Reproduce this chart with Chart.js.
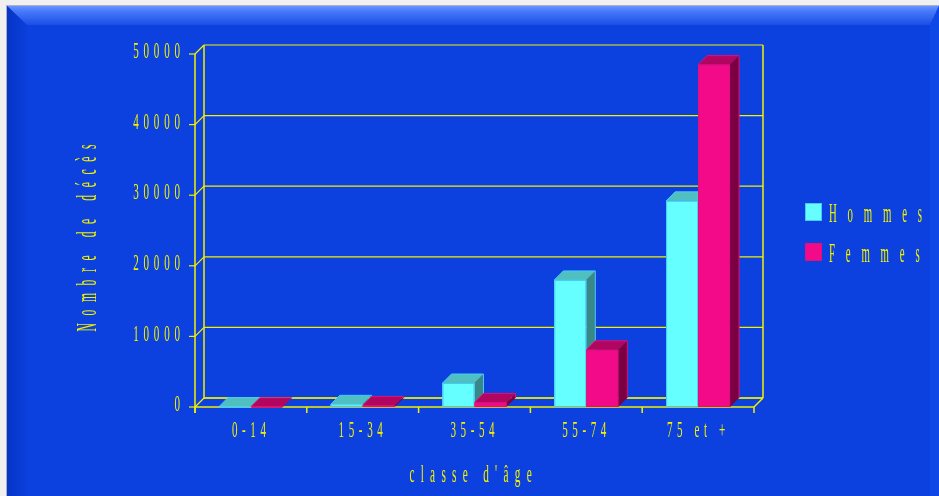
<!DOCTYPE html>
<html>
<head>
<meta charset="utf-8">
<style>
  html, body { margin: 0; padding: 0; background: #f0f0f0; }
  canvas { display: block; }
</style>
<script src="https://cdn.jsdelivr.net/npm/chart.js@4.4.1/dist/chart.umd.min.js"></script>
</head>
<body>
<canvas id="chart" width="939" height="496"></canvas>
<script>
const categories = ['0-14', '15-34', '35-54', '55-74', '75 et +'];
const seriesNames = ['Hommes', 'Femmes'];
const hommes = [50, 380, 3400, 18000, 29200];
const femmes = [30, 220, 650, 8100, 48500];
const yTicks = [0, 10000, 20000, 30000, 40000, 50000];
const yTickLabels = ['0', '10000', '20000', '30000', '40000', '50000'];

const DX = 9, DY = 9;
const YELLOW = '#f2f200';
const FONT = '"Liberation Serif", "DejaVu Serif", serif';

// condensed, letter-spaced text like the original
function spaced(ctx, str, x, y, size, sx, gap, align, rot) {
	ctx.save();
	ctx.font = size + 'px ' + FONT;
	ctx.fillStyle = YELLOW;
	ctx.textBaseline = 'alphabetic';
	ctx.textAlign = 'left';
	const chars = Array.from(str);
	const widths = chars.map(c => ctx.measureText(c).width * sx);
	const total = widths.reduce((a, b) => a + b, 0) + gap * (chars.length - 1);
	let start = 0;
	if (align === 'center') start = -total / 2;
	if (align === 'right') start = -total;
	ctx.translate(x, y);
	if (rot) ctx.rotate(rot);
	let cx = start;
	chars.forEach((c, i) => {
		ctx.save();
		ctx.translate(cx, 0);
		ctx.scale(sx, 1);
		ctx.fillText(c, 0, 0);
		ctx.restore();
		cx += widths[i] + gap;
	});
	ctx.restore();
}

function line(ctx, x1, y1, x2, y2) {
	ctx.beginPath();
	ctx.moveTo(x1, y1);
	ctx.lineTo(x2, y2);
	ctx.stroke();
}

function poly(ctx, pts, fill) {
	ctx.beginPath();
	ctx.moveTo(pts[0][0], pts[0][1]);
	for (let i = 1; i < pts.length; i++) ctx.lineTo(pts[i][0], pts[i][1]);
	ctx.closePath();
	ctx.fillStyle = fill;
	ctx.fill();
}

const backdrop = {
	id: 'backdrop',
	beforeDraw(chart) {
		const ctx = chart.ctx;
		const W = chart.width, H = chart.height;
		ctx.save();
		ctx.fillStyle = '#f0f0f0';
		ctx.fillRect(0, 0, W, H);
		ctx.fillStyle = '#a9b0c8';
		ctx.fillRect(6, 5, W - 6, H - 5);
		ctx.fillStyle = '#0c41e0';
		ctx.fillRect(7, 6, W - 7, H - 6);

		let g = ctx.createLinearGradient(0, 6, 0, 25);
		g.addColorStop(0, '#6795ff');
		g.addColorStop(0.25, '#4a7bfa');
		g.addColorStop(1, '#1a4ee6');
		poly(ctx, [[7, 6], [W, 6], [W - 9, 25], [27, 25]], g);

		g = ctx.createLinearGradient(7, 0, 27, 0);
		g.addColorStop(0, '#0634c6');
		g.addColorStop(1, '#0b3fdc');
		poly(ctx, [[7, 6], [27, 25], [27, H], [7, H]], g);

		poly(ctx, [[W, 6], [W - 9, 25], [W - 9, H], [W, H]], '#0f47e6');
		ctx.restore();
	},
	beforeDatasetsDraw(chart) {
		const ctx = chart.ctx;
		const a = chart.chartArea;
		const ys = chart.scales.y, xs = chart.scales.x;
		ctx.save();
		ctx.strokeStyle = YELLOW;
		ctx.lineWidth = 1.2;
		yTicks.forEach(v => {
			const fy = ys.getPixelForValue(v);
			line(ctx, a.left + DX, fy - DY, a.right + DX, fy - DY);
			line(ctx, a.left, fy, a.left + DX, fy - DY);
			line(ctx, a.left - 6, fy, a.left, fy);
		});
		ctx.lineWidth = 1.5;
		line(ctx, a.left + DX, a.top - DY, a.left + DX, a.bottom - DY);
		line(ctx, a.right + DX, a.top - DY, a.right + DX, a.bottom - DY);
		line(ctx, a.left, a.top, a.left, a.bottom + 6);
		line(ctx, a.left, a.bottom, a.right, a.bottom);
		line(ctx, a.left + DX, a.bottom - DY, a.right + DX, a.bottom - DY);
		line(ctx, a.right, a.bottom, a.right + DX, a.bottom - DY);
		for (let i = 0; i <= categories.length; i++) {
			const x = xs.getPixelForValue(i - 0.5);
			line(ctx, x, a.bottom, x, a.bottom + 6);
		}
		ctx.restore();
	},
	afterDatasetsDraw(chart) {
		const ctx = chart.ctx;
		ctx.save();
		chart.data.datasets.forEach((ds, d) => {
			chart.getDatasetMeta(d).data.forEach(bar => {
				const p = bar.getProps(['x', 'y', 'base', 'width'], true);
				const l = p.x - p.width / 2, r = p.x + p.width / 2;
				poly(ctx, [[r, p.y], [r + DX, p.y - DY], [r + DX, p.base - DY], [r, p.base]], ds.sideColor);
				poly(ctx, [[l, p.y], [r, p.y], [r + DX, p.y - DY], [l + DX, p.y - DY]], ds.topColor);
				ctx.strokeStyle = ds.borderColor;
				ctx.lineWidth = 1;
				ctx.beginPath();
				ctx.moveTo(l, p.y); ctx.lineTo(l + DX, p.y - DY); ctx.lineTo(r + DX, p.y - DY);
				ctx.lineTo(r + DX, p.base - DY);
				ctx.stroke();
				ctx.fillStyle = ds.backgroundColor;
				ctx.fillRect(l, p.y, p.width, p.base - p.y);
				ctx.strokeRect(l + 0.5, p.y + 0.5, p.width - 1, Math.max(0, p.base - p.y - 1));
			});
		});
		ctx.restore();
	},
	afterDraw(chart) {
		const ctx = chart.ctx;
		const a = chart.chartArea;
		const ys = chart.scales.y, xs = chart.scales.x;
		yTicks.forEach((v, i) => {
			spaced(ctx, yTickLabels[i], a.left - 15, ys.getPixelForValue(v) + 4.2, 23, 0.48, 4.8, 'right');
		});
		categories.forEach((c, i) => {
			spaced(ctx, c, xs.getPixelForValue(i) - 2, a.bottom + 30, 23, 0.48, 4.6, 'center');
		});
		spaced(ctx, 'classe d\'âge', (a.left + a.right) / 2 - 4, a.bottom + 75, 25, 0.45, 6.3, 'center');
		spaced(ctx, 'Nombre de décès', 96, 238, 29, 0.4, 7.6, 'center', -Math.PI / 2);

		// legend
		chart.data.datasets.forEach((ds, d) => {
			const top = 203 + d * 40;
			ctx.fillStyle = ds.backgroundColor;
			ctx.fillRect(805, top, 17, 18);
			ctx.strokeStyle = ds.borderColor;
			ctx.lineWidth = 1;
			ctx.strokeRect(805.5, top + 0.5, 16, 17);
			spaced(ctx, ds.label, 829, top + 18.5, 27, 0.4, 10.8, 'left');
		});
	}
};

new Chart(document.getElementById('chart'), {
	type: 'bar',
	data: {
		labels: categories,
		datasets: [
			{
				label: seriesNames[0],
				data: hommes,
				backgroundColor: '#66ffff',
				topColor: '#50bfbf',
				sideColor: '#3a8787',
				borderColor: '#45c8ff',
				borderWidth: 0
			},
			{
				label: seriesNames[1],
				data: femmes,
				backgroundColor: '#f20a88',
				topColor: '#b1065f',
				sideColor: '#7a0042',
				borderColor: '#e0107a',
				borderWidth: 0
			}
		]
	},
	options: {
		responsive: false,
		devicePixelRatio: 1,
		animation: false,
		layout: { padding: { left: 195, right: 185, top: 54, bottom: 89 } },
		categoryPercentage: 0.572,
		barPercentage: 1.0,
		plugins: {
			legend: { display: false },
			tooltip: { enabled: false }
		},
		scales: {
			x: { display: false },
			y: { display: false, min: 0, max: 50000 }
		}
	},
	plugins: [backdrop]
});
</script>
</body>
</html>
